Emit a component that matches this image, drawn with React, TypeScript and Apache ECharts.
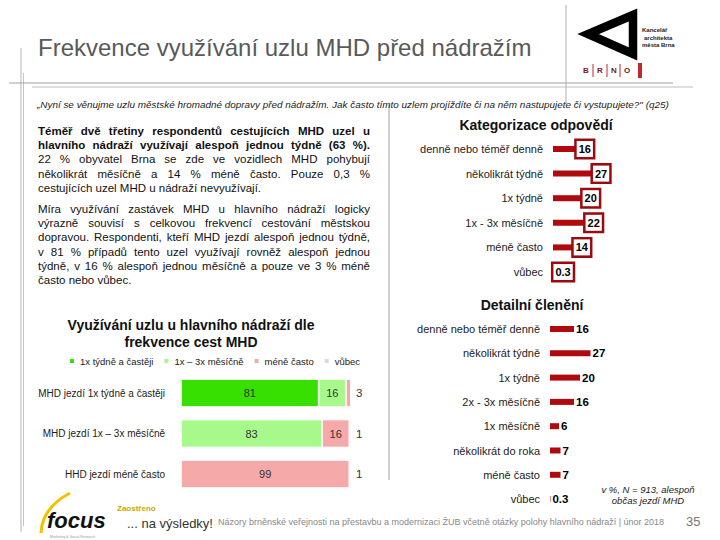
import React, { useEffect, useRef } from 'react';
import * as echarts from 'echarts';

const FONT = "'Liberation Sans', Arial, Helvetica, sans-serif";

// ---- data ----
const catCategories = ['denně nebo téměř denně', 'několikrát týdně', '1x týdně', '1x - 3x měsíčně', 'méně často', 'vůbec'];
const catValues = [16, 27, 20, 22, 14, 0.3];

const detCategories = ['denně nebo téměř denně', 'několikrát týdně', '1x týdně', '2x - 3x měsíčně', '1x měsíčně', 'několikrát do roka', 'méně často', 'vůbec'];
const detValues = [16, 27, 20, 16, 6, 7, 7, 0.3];

const freqGroups = ['MHD jezdí 1x týdně a častěji', 'MHD jezdí 1x – 3x měsíčně', 'HHD jezdí méně často'];
const freqSeriesNames = ['1x týdně a častěji', '1x – 3x měsíčně', 'méně často', 'vůbec'];
const weeklyPlus = [81, 0, 0];
const monthly = [16, 83, 0];
const lessOften = [3, 16, 99];
const never = [0, 1, 1];
const freqValues = [weeklyPlus, monthly, lessOften, never];
const freqColors = ['#37e000', '#a8f98c', '#f5a9a9', '#d9d9d9'];

const mainTitle = 'Frekvence využívání uzlu MHD před nádražím';
const questionText = '„Nyní se věnujme uzlu městské hromadné dopravy před nádražím. Jak často tímto uzlem projíždíte či na něm nastupujete či vystupujete?" (q25)';
const para1 = [
  'Téměř dvě třetiny respondentů cestujících MHD uzel u',
  'hlavního nádraží využívají alespoň jednou týdně (63 %).',
  '22 % obyvatel Brna se zde ve vozidlech MHD pohybují',
  'několikrát měsíčně a 14 % méně často. Pouze 0,3 %',
  'cestujících uzel MHD u nádraží nevyužívají.',
];
const para1Bold = 2;
const para2 = [
  'Míra využívání zastávek MHD u hlavního nádraží logicky',
  'výrazně souvisí s celkovou frekvencí cestování městskou',
  'dopravou. Respondenti, kteří MHD jezdí alespoň jednou týdně,',
  'v 81 % případů tento uzel využívají rovněž alespoň jednou',
  'týdně, v 16 % alespoň jednou měsíčně a pouze ve 3 % méně',
  'často nebo vůbec.',
];
const footerText = 'Názory brněnské veřejnosti na přestavbu a modernizaci ŽUB včetně otázky polohy hlavního nádraží | únor 2018';

let ctx: CanvasRenderingContext2D | null = null;
function measure(text: string, size: number, weight = 'normal', style = 'normal') {
  if (!ctx) ctx = document.createElement('canvas').getContext('2d');
  if (!ctx) return text.length * size * 0.5;
  ctx.font = `${style} ${weight} ${size}px ${FONT}`;
  return ctx.measureText(text).width;
}

function txt(text: string, x: number, y: number, size: number, o: any = {}) {
  return {
    type: 'text',
    x,
    y,
    silent: true,
    style: {
      text,
      fontSize: size,
      fontFamily: FONT,
      fontWeight: o.weight || 'normal',
      fontStyle: o.style || 'normal',
      fill: o.color || '#222',
      textAlign: o.align || 'left',
      textVerticalAlign: 'middle',
    },
  };
}

function justified(text: string, x0: number, x1: number, y: number, size: number, weight: string, doJustify: boolean) {
  if (!doJustify) return [txt(text, x0, y, size, { weight, color: '#111' })];
  const words = text.split(' ');
  const widths = words.map((w) => measure(w, size, weight));
  const sum = widths.reduce((a, b) => a + b, 0);
  const gap = (x1 - x0 - sum) / (words.length - 1);
  const out: any[] = [];
  let x = x0;
  words.forEach((w, i) => {
    out.push(txt(w, x, y, size, { weight, color: '#111' }));
    x += widths[i] + gap;
  });
  return out;
}

function line(x1: number, y1: number, x2: number, y2: number, stroke = '#aaa', lw = 1) {
  return { type: 'line', silent: true, shape: { x1, y1, x2, y2 }, style: { stroke, lineWidth: lw } };
}

function buildGraphics() {
  const g: any[] = [];
  // frame lines
  g.push(line(21, 48, 21, 532, '#b5b5b5'));
  g.push(line(23.5, 73, 23.5, 526, '#c5c5c5'));
  g.push(line(9, 83, 673, 83, '#a0a0a0'));
  g.push(line(32, 87, 693, 87, '#c0c0c0'));
  g.push(line(566, 5, 566, 104, '#b0b0b0'));
  g.push(line(389, 104, 389, 480, '#a0a0a0'));

  // title
  g.push(txt(mainTitle, 38, 47, 24, { color: '#595959' }));

  // logo A
  g.push({
    type: 'polygon',
    silent: true,
    shape: { points: [[633, 15], [588, 34], [633, 54]] },
    style: { fill: 'none', stroke: '#000', lineWidth: 8.5, lineJoin: 'miter' },
  });
  g.push(txt('Kancelář', 642, 30, 6, { weight: 'bold', color: '#222' }));
  g.push(txt('architekta', 644, 37.5, 6, { weight: 'bold', color: '#222' }));
  g.push(txt('města Brna', 642, 45, 6, { weight: 'bold', color: '#222' }));
  const brno = ['B', 'R', 'N', 'O'];
  const bx = [586, 600, 614, 627];
  brno.forEach((l, i) => g.push(txt(l, bx[i], 70, 8, { weight: 'bold', color: '#7e1518', align: 'center' })));
  [593, 607, 620].forEach((x) => g.push(line(x, 64, x, 77, '#c0282d', 1)));
  g.push({ type: 'rect', silent: true, shape: { x: 638, y: 63, width: 4, height: 15 }, style: { fill: '#c0282d' } });

  // question
  const qSize = 633 / measure(questionText, 10, 'normal', 'italic') * 10;
  g.push(txt(questionText, 37, 104, qSize, { style: 'italic', color: '#222' }));

  // body text
  const lh = 14.2;
  para1.forEach((t, i) => {
    g.push(...justified(t, 38, 370, 131 + i * lh, 11.5, i < para1Bold ? 'bold' : 'normal', i < para1.length - 1));
  });
  para2.forEach((t, i) => {
    g.push(...justified(t, 38, 370, 209 + i * lh, 11.5, 'normal', i < para2.length - 1));
  });

  // chart titles
  g.push(txt('Kategorizace odpovědí', 536, 125, 14, { weight: 'bold', align: 'center', color: '#111' }));
  g.push(txt('Využívání uzlu u hlavního nádraží dle', 191, 325, 14, { weight: 'bold', align: 'center', color: '#111' }));
  g.push(txt('frekvence cest MHD', 191, 342, 14, { weight: 'bold', align: 'center', color: '#111' }));
  g.push(txt('Detailní členění', 532, 305, 14, { weight: 'bold', align: 'center', color: '#111' }));

  // note
  g.push(txt('v %, N = 913, alespoň', 648, 489, 9.5, { style: 'italic', align: 'center', color: '#222' }));
  g.push(txt('občas jezdí MHD', 648, 500, 9.5, { style: 'italic', align: 'center', color: '#222' }));

  // footer
  g.push({
    type: 'bezierCurve',
    silent: true,
    shape: { x1: 41, y1: 533, cpx1: 42, cpy1: 508, x2: 70, y2: 493 },
    style: { stroke: '#f2c200', lineWidth: 3, fill: 'none' },
  });
  g.push(txt('focus', 47, 520, 22, { weight: 'bold', style: 'italic', color: '#111' }));
  g.push(txt('Marketing & Social Research', 50, 536.5, 3.5, { color: '#999' }));
  g.push(txt('Zaostřeno', 117, 508, 8, { weight: 'bold', color: '#c9a800' }));
  g.push(txt('... na výsledky!', 127, 523, 13, { color: '#333' }));
  const fSize = 447 / measure(footerText, 10) * 10;
  g.push(txt(footerText, 218, 522, fSize, { color: '#888' }));
  g.push(txt('35', 686, 521, 13, { color: '#777' }));
  return g;
}

export default function App() {
  const ref = useRef<HTMLDivElement>(null);
  useEffect(() => {
    if (!ref.current) return;
    const chart = echarts.init(ref.current, undefined, { renderer: 'svg' });
    const axisLabel = { fontSize: 11, color: '#222', fontFamily: FONT };
    const hiddenX = (gridIndex: number) => ({
      type: 'value', gridIndex, min: 0, max: 100, show: false, splitLine: { show: false },
    });
    const catY = (gridIndex: number, data: string[], margin: number, fontSize: number) => ({
      type: 'category', gridIndex, data, inverse: true,
      axisLine: { show: false }, axisTick: { show: false }, splitLine: { show: false },
      axisLabel: { ...axisLabel, fontSize, margin },
    });
    const freqSeries = freqValues.map((vals, si) => ({
      type: 'bar',
      name: freqSeriesNames[si],
      xAxisIndex: 1,
      yAxisIndex: 1,
      stack: 'freq',
      barWidth: 28,
      itemStyle: { color: freqColors[si], borderColor: '#fff', borderWidth: 0.8 },
      data: vals.map((v) => ({
        value: v,
        label: v <= 0
          ? { show: false }
          : v < 5
            ? { show: true, position: 'right', distance: 5, fontSize: 11.5, color: '#333' }
            : { show: true, position: 'inside', fontSize: 11, color: '#333' },
      })),
    }));
    chart.setOption({
      animation: false,
      backgroundColor: '#fff',
      textStyle: { fontFamily: FONT },
      grid: [
        { left: 553, top: 136.7, width: 148, height: 147.6, containLabel: false, outerBoundsMode: 'none' },
        { left: 181, top: 372.75, width: 170, height: 121.5, containLabel: false, outerBoundsMode: 'none' },
        { left: 550, top: 316.85, width: 150, height: 194.4, containLabel: false, outerBoundsMode: 'none' },
      ],
      xAxis: [hiddenX(0), hiddenX(1), hiddenX(2)],
      yAxis: [catY(0, catCategories, 10, 11), catY(1, freqGroups, 16, 10), catY(2, detCategories, 10, 11)],
      legend: {
        data: freqSeriesNames,
        left: 68,
        top: 356,
        padding: 0,
        itemWidth: 6,
        itemHeight: 6,
        itemGap: 9,
        icon: 'rect',
        textStyle: { fontSize: 9.5, color: '#222', fontFamily: FONT },
        selectedMode: false,
      },
      series: [
        {
          type: 'bar',
          name: 'Kategorizace odpovědí',
          xAxisIndex: 0,
          yAxisIndex: 0,
          data: catValues,
          barWidth: 6,
          itemStyle: { color: '#b0090e' },
          label: {
            show: true, position: 'right', distance: 0,
            backgroundColor: '#fff', borderColor: '#9c0a0f', borderWidth: 2.5,
            padding: [2, 2, 1, 2], lineHeight: 13,
            fontWeight: 'bold', fontSize: 11, color: '#000', fontFamily: FONT,
          },
        },
        ...freqSeries,
        {
          type: 'bar',
          name: 'Detailní členění',
          xAxisIndex: 2,
          yAxisIndex: 2,
          data: detValues,
          barWidth: 6,
          itemStyle: { color: '#b0090e' },
          label: { show: true, position: 'right', distance: 2, fontWeight: 'bold', fontSize: 11.5, color: '#000', fontFamily: FONT },
        },
      ],
      graphic: buildGraphics(),
    });
    return () => chart.dispose();
  }, []);
  return <div ref={ref} style={{ position: 'fixed', left: 0, top: 0, width: 720, height: 540, background: '#fff' }} />;
}
